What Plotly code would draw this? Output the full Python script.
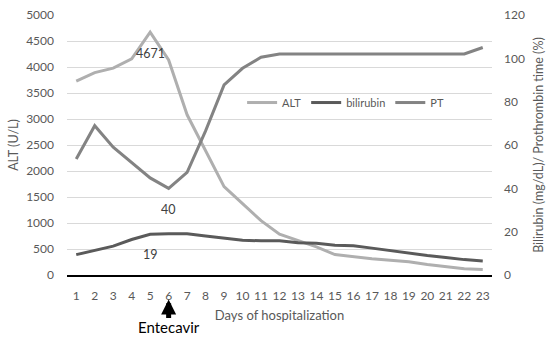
import plotly.graph_objects as go

days = list(range(1, 24))
alt = [3727, 3892, 3977, 4155, 4671, 4136, 3081, 2400, 1700, 1372, 1046, 783,
       662, 541, 393, 349, 311, 284, 253, 202, 157, 119, 106]
bilirubin = [9.4, 11.4, 13.3, 16.4, 18.8, 19, 19, 18.0, 16.9, 16.0, 15.8, 15.8,
             14.9, 14.6, 13.7, 13.5, 12.4, 11.2, 10.0, 9.0, 8.1, 7.1, 6.5]
pt = [53.5, 68.9, 59.0, 51.7, 44.8, 40, 47.4, 66.5, 87.7, 95.4, 100.5, 102,
      102, 102, 102, 102, 102, 102, 102, 102, 102, 102, 105]

labels = [("4671", 5, 4671, "y"), ("40", 6, 40, "y2"), ("19", 5, 19, "y2")]

FONT = "Lato, Calibri, Carlito, sans-serif"
TXT = "#595959"

PLOT_TOP, PLOT_BOTTOM = 15, 275.5
PLOT_H = PLOT_BOTTOM - PLOT_TOP


def py(pix):
    """pixel row -> paper coordinate"""
    return (PLOT_BOTTOM - pix) / PLOT_H


fig = go.Figure()
fig.add_trace(go.Scatter(x=days, y=alt, name="ALT", mode="lines",
                         line=dict(color="#afafaf", width=3)))
fig.add_trace(go.Scatter(x=days, y=bilirubin, name="bilirubin", mode="lines",
                         line=dict(color="#5a5a5a", width=3), yaxis="y2"))
fig.add_trace(go.Scatter(x=days, y=pt, name="PT", mode="lines",
                         line=dict(color="#838383", width=3), yaxis="y2"))

for txt, xv, yv, yr in labels:
    fig.add_annotation(x=xv, y=yv, yref=yr, text=txt, showarrow=False,
                       yshift=-21, font=dict(family=FONT, size=12.5, color="#404040"))

# Entecavir arrow + label
fig.add_annotation(x=6, xref="x", y=py(300), yref="paper", ax=0, ay=20,
                   text="", showarrow=True, arrowhead=2, arrowsize=0.6,
                   arrowwidth=5, arrowcolor="black")
fig.add_annotation(x=6, xref="x", y=py(328), yref="paper", text="Entecavir",
                   showarrow=False, yanchor="middle",
                   font=dict(family=FONT, size=15, color="black"))

fig.update_layout(
    width=550, height=339,
    margin=dict(l=66.7, r=58.3, t=PLOT_TOP, b=339 - PLOT_BOTTOM, autoexpand=False),
    paper_bgcolor="white", plot_bgcolor="white",
    font=dict(family=FONT, size=12, color=TXT),
    showlegend=True,
    legend=dict(orientation="h", x=0.412, xanchor="left", y=py(102.7), yanchor="middle",
                bgcolor="rgba(0,0,0,0)", font=dict(family=FONT, size=11, color=TXT),
                itemwidth=30, tracegroupgap=0),
    xaxis=dict(range=[0.5, 23.5], tickvals=days, ticktext=[str(d) for d in days],
               showgrid=False, zeroline=False, showline=True, linecolor="black",
               linewidth=1.5, ticks="", ticklabelstandoff=9, automargin=False,
               title=dict(text="Days of hospitalization", standoff=9,
                          font=dict(family=FONT, size=13, color=TXT)),
               fixedrange=True),
    yaxis=dict(range=[0, 5000], tickvals=list(range(0, 5001, 500)),
               showgrid=True, gridcolor="#d9d9d9", gridwidth=1, zeroline=False,
               ticks="", ticklabelstandoff=12, automargin=False,
               title=dict(text="ALT (U/L)", standoff=4,
                          font=dict(family=FONT, size=12.5, color=TXT))),
    yaxis2=dict(range=[0, 120], tickvals=[0, 20, 40, 60, 80, 100, 120],
                overlaying="y", side="right", showgrid=False, zeroline=False,
                ticks="", ticklabelstandoff=11, automargin=False,
                title=dict(text="Bilirubin (mg/dL)/ Prothrombin time (%)", standoff=10,
                           font=dict(family=FONT, size=12.5, color=TXT))),
)

fig.write_html("out.html", config={"displayModeBar": False},
               post_script="document.body.style.margin='0';document.body.style.overflow='hidden';")
